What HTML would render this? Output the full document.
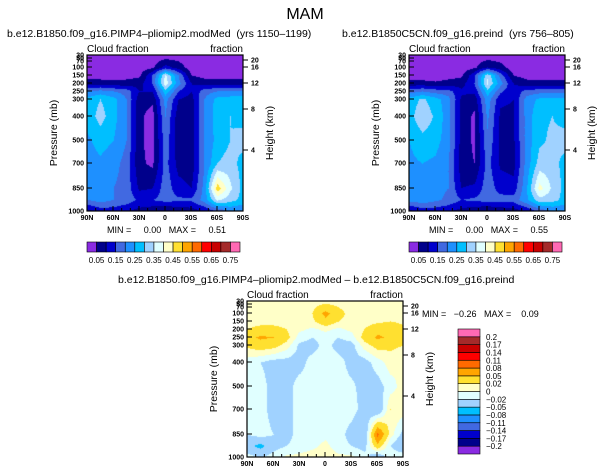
<!DOCTYPE html>
<html><head><meta charset="utf-8"><style>
body{margin:0;background:#fff;width:611px;height:475px;overflow:hidden;position:relative;font-family:"Liberation Sans",sans-serif}
canvas{position:absolute}
svg{position:absolute;left:0;top:0}
svg text{white-space:pre}
</style></head><body>
<canvas id="c0" width="156" height="156" style="left:87px;top:55px"></canvas>
<canvas id="c1" width="156" height="156" style="left:409px;top:55px"></canvas>
<canvas id="c2" width="156" height="156" style="left:247px;top:301px"></canvas>
<svg id="s" width="611" height="475"></svg>
<script>
const latLabels=["90N","60N","30N","0","30S","60S","90S"];
const pressureTicks=[30,50,70,100,150,200,250,300,400,500,700,850,1000];
const pressureLabels=["30","50","70","100","150","200","250","300","400","500","700","850","1000"];
const heightTicks=[20,16,12,8,4];
const levelsTop=[0.05,0.1,0.15,0.2,0.25,0.3,0.35,0.4,0.45,0.5,0.55,0.6,0.65,0.7,0.75];
const levelsDiff=[-0.2,-0.17,-0.14,-0.11,-0.08,-0.05,-0.02,0,0.02,0.05,0.08,0.11,0.14,0.17,0.2];
const levelsDiffLabels=["-0.2","-0.17","-0.14","-0.11","-0.08","-0.05","-0.02","0","0.02","0.05","0.08","0.11","0.14","0.17","0.2"];
const gridLats=[90,75,60,45,30,15,0,-15,-30,-45,-60,-75,-90];
const gridP=[30,100,150,200,250,300,400,500,700,850,925,1000];
const fieldA=[
[0.02,0.02,0.02,0.02,0.02,0.02,0.02,0.02,0.02,0.02,0.02,0.02,0.02],
[0.02,0.02,0.02,0.02,0.02,0.04,0.12,0.08,0.02,0.02,0.02,0.02,0.02],
[0.02,0.02,0.02,0.03,0.04,0.15,0.36,0.2,0.05,0.03,0.02,0.02,0.02],
[0.08,0.08,0.07,0.07,0.08,0.15,0.38,0.22,0.1,0.08,0.08,0.08,0.08],
[0.2,0.22,0.2,0.18,0.1,0.1,0.28,0.15,0.1,0.18,0.2,0.2,0.2],
[0.27,0.3,0.27,0.2,0.07,0.06,0.22,0.1,0.08,0.2,0.27,0.28,0.28],
[0.27,0.32,0.27,0.2,0.06,0.03,0.2,0.07,0.07,0.2,0.28,0.3,0.28],
[0.24,0.27,0.25,0.2,0.06,0.03,0.18,0.07,0.07,0.2,0.27,0.3,0.32],
[0.23,0.24,0.22,0.18,0.06,0.04,0.17,0.08,0.07,0.2,0.3,0.32,0.28],
[0.22,0.22,0.2,0.18,0.09,0.1,0.18,0.12,0.1,0.22,0.48,0.36,0.28],
[0.2,0.22,0.2,0.18,0.14,0.15,0.17,0.16,0.16,0.22,0.36,0.32,0.28],
[0.08,0.12,0.12,0.1,0.08,0.06,0.04,0.06,0.07,0.1,0.15,0.2,0.2]];
const fieldB=[
[0.02,0.02,0.02,0.02,0.02,0.02,0.02,0.02,0.02,0.02,0.02,0.02,0.02],
[0.02,0.02,0.02,0.02,0.02,0.04,0.1,0.07,0.02,0.02,0.02,0.02,0.02],
[0.02,0.02,0.02,0.03,0.04,0.14,0.34,0.18,0.05,0.03,0.02,0.02,0.02],
[0.07,0.07,0.06,0.07,0.08,0.15,0.36,0.22,0.1,0.07,0.07,0.07,0.07],
[0.18,0.2,0.18,0.17,0.11,0.11,0.28,0.16,0.11,0.17,0.18,0.18,0.18],
[0.27,0.31,0.27,0.22,0.09,0.07,0.23,0.11,0.1,0.22,0.26,0.27,0.27],
[0.28,0.34,0.29,0.22,0.08,0.04,0.21,0.09,0.09,0.22,0.29,0.3,0.28],
[0.25,0.28,0.27,0.22,0.08,0.04,0.19,0.09,0.09,0.22,0.29,0.31,0.32],
[0.24,0.25,0.24,0.2,0.07,0.05,0.17,0.09,0.08,0.22,0.32,0.32,0.28],
[0.23,0.23,0.21,0.2,0.1,0.11,0.18,0.13,0.12,0.24,0.42,0.34,0.28],
[0.22,0.23,0.21,0.19,0.15,0.16,0.17,0.17,0.17,0.24,0.33,0.32,0.28],
[0.08,0.12,0.12,0.1,0.08,0.06,0.04,0.06,0.07,0.1,0.16,0.2,0.2]];
const fieldDiff=[
[0.01,0.01,0.01,0.01,0.01,0.01,0.01,0.01,0.01,0.01,0.01,0.01,0.01],
[0.01,0.01,0.01,0.01,0.01,0.02,0.06,0.03,0.01,0.01,0.01,0.01,0.01],
[0.01,0.01,0.01,0.01,0.01,0.015,0.04,0.02,0.01,0.01,0.015,0.02,0.015],
[0.02,0.03,0.03,0.02,0.005,-0.005,0.005,-0.005,0.005,0.02,0.04,0.04,0.025],
[0.04,0.055,0.05,0.03,-0.01,-0.02,-0.01,-0.02,-0.01,0.03,0.055,0.045,0.03],
[0.025,0.035,0.03,0.01,-0.025,-0.03,-0.01,-0.03,-0.03,0.01,0.03,0.025,0.02],
[-0.01,-0.02,-0.03,-0.03,-0.03,-0.01,-0.01,-0.01,-0.03,-0.03,-0.01,0.01,0.0],
[-0.01,-0.01,-0.03,-0.03,-0.01,-0.01,-0.005,-0.01,-0.015,-0.03,-0.03,-0.01,0.01],
[-0.01,-0.01,-0.03,-0.03,-0.01,-0.01,-0.005,-0.01,-0.01,-0.03,-0.05,0.02,0.01],
[-0.02,-0.01,-0.02,-0.03,-0.01,-0.01,-0.005,-0.01,-0.03,-0.05,0.09,0.01,-0.03],
[-0.04,-0.06,-0.03,-0.02,-0.01,-0.005,0.005,-0.01,-0.02,-0.03,0.04,-0.02,-0.05],
[-0.01,-0.02,-0.01,0.005,0.005,0.01,0.01,0.005,0.005,-0.01,-0.05,0.0,0.0]];
const palette=["#8a2be2","#00008b","#0000cd","#4169e1","#1e90ff","#00bfff","#a0d2ff","#e0ffff","#ffffc8","#ffe030","#ffa500","#ff6a00","#ff0000","#c80000","#a52a2a","#ff69b4"];
const pYoff=[0,3,6,12,20,28,36,44,61,85,108,133,156];
function yOfP(p){
  for(let i=0;i<pressureTicks.length-1;i++){const a=pressureTicks[i],b=pressureTicks[i+1];
    if(p>=a&&p<=b){return pYoff[i]+(p-a)/(b-a)*(pYoff[i+1]-pYoff[i]);}}
  return p<30?0:156;}
const hYoff={20:5,16:12,12:28,8:54,4:95};
function xOfLat(lat){return (90-lat)/180*156;}
function hex(c){return [parseInt(c.slice(1,3),16),parseInt(c.slice(3,5),16),parseInt(c.slice(5,7),16)];}
const pal=palette.map(hex);
function colorIdx(v,lev){let i=0;while(i<lev.length&&v>=lev[i])i++;return i;}
function draw(id,field,lev){
  const cv=document.getElementById(id),ctx=cv.getContext('2d'),img=ctx.createImageData(156,156);
  const rowY=gridP.map(yOfP),colX=gridLats.map(xOfLat);
  for(let y=0;y<156;y++){let r=0;while(r<rowY.length-2&&y>rowY[r+1])r++;
    const ty=Math.min(1,Math.max(0,(y-rowY[r])/(rowY[r+1]-rowY[r])));
    for(let x=0;x<156;x++){let c=Math.min(11,Math.floor(x/13));const tx=(x-colX[c])/(colX[c+1]-colX[c]);
      const v=(field[r][c]*(1-tx)+field[r][c+1]*tx)*(1-ty)+(field[r+1][c]*(1-tx)+field[r+1][c+1]*tx)*ty;
      const k=pal[colorIdx(v,lev)],o=(y*156+x)*4;img.data[o]=k[0];img.data[o+1]=k[1];img.data[o+2]=k[2];img.data[o+3]=255;}}
  ctx.putImageData(img,0,0);}
draw('c0',fieldA,levelsTop);draw('c1',fieldB,levelsTop);draw('c2',fieldDiff,levelsDiff);
const S=document.getElementById('s'),NS="http://www.w3.org/2000/svg";
function el(t,a,txt){const e=document.createElementNS(NS,t);for(const k in a)e.setAttribute(k,a[k]);if(txt!==undefined)e.textContent=txt;S.appendChild(e);return e;}
function text(x,y,s,size,anchor,name,extra){const e=el('text',Object.assign({x:x,y:y,'font-size':size,'text-anchor':anchor||'start',fill:'#000'},extra||{}),s);
  
  return e;}
text(305,19,"MAM",16,'middle','main-title');
function panel(x0,y0,title,tx,pfx){
  text(tx,y0-18,title,10.5,'start',pfx+'-title');
  text(x0,y0-3,"Cloud fraction",10,'start',pfx+'-left-string');
  text(x0+156,y0-3,"fraction",10,'end',pfx+'-right-string');
  const b=el('rect',{x:x0,y:y0,width:156,height:156,fill:'none',stroke:'#000','stroke-width':1.2});
  
  
  pressureTicks.forEach((p,i)=>{const y=y0+yOfP(p);
    el('line',{x1:x0,x2:x0+5,y1:y,y2:y,stroke:'#000'});
    text(x0-3,y+2.5,pressureLabels[i],7,'end',pfx+'-pressure-tick',{'font-weight':'bold'});});
  heightTicks.forEach(h=>{const y=y0+hYoff[h];
    el('line',{x1:x0+156,x2:x0+161,y1:y,y2:y,stroke:'#000'});
    text(x0+164,y+2.5,String(h),7,'start',pfx+'-height-tick',{'font-weight':'bold'});});
  latLabels.forEach((l,i)=>{const x=x0+i*26;
    el('line',{x1:x,x2:x,y1:y0+156,y2:y0+151,stroke:'#000'});
    text(x,y0+165,l,7,'middle',pfx+'-lat-tick',{'font-weight':'bold'});});
  for(let i=0;i<=18;i++){const x=x0+i*156/18;el('line',{x1:x,x2:x,y1:y0+156,y2:y0+153,stroke:'#000'});}
  text(0,0,"Pressure (mb)",10.5,'middle',pfx+'-y-axis-title',{transform:`translate(${x0-30},${y0+78}) rotate(-90)`});
  text(0,0,"Height (km)",10.5,'middle',pfx+'-right-axis-title',{transform:`translate(${x0+186},${y0+78}) rotate(-90)`});
}
panel(87,55,"b.e12.B1850.f09_g16.PIMP4\u2013pliomip2.modMed  (yrs 1150\u20131199)",7,'left');
panel(409,55,"b.e12.B1850C5CN.f09_g16.preind  (yrs 756\u2013805)",342,'right');
panel(247,301,"b.e12.B1850.f09_g16.PIMP4\u2013pliomip2.modMed \u2013 b.e12.B1850C5CN.f09_g16.preind",118,'diff');
text(107,233,"MIN =     0.00   MAX =     0.51",9,'start','left-min-max');
text(429,233,"MIN =     0.00   MAX =     0.55",9,'start','right-min-max');
text(422,317,"MIN =   \u22120.26   MAX =    0.09",9,'start','diff-min-max');
function hbar(x0,pfx){const w=153/16;
  palette.forEach((c,i)=>{const r=el('rect',{x:x0+i*w,y:242,width:w,height:10,fill:c,stroke:'#000','stroke-width':0.6});
    
    });
  levelsTop.forEach((v,i)=>{if(i%2===0)text(x0+(i+1)*w,263,v.toFixed(2),8,'middle',pfx+'-colorbar-label');});}
hbar(87,'left');hbar(409,'right');
const bh=125/16;
palette.forEach((c,i)=>{const r=el('rect',{x:458,y:454-(i+1)*bh,width:22,height:bh,fill:c,stroke:'#000','stroke-width':0.6});
  
  });
levelsDiffLabels.forEach((l,i)=>{text(486,454-(i+1)*bh+3,l.replace('-','\u2212'),8,'start','diff-colorbar-label');});
</script>
</body></html>
